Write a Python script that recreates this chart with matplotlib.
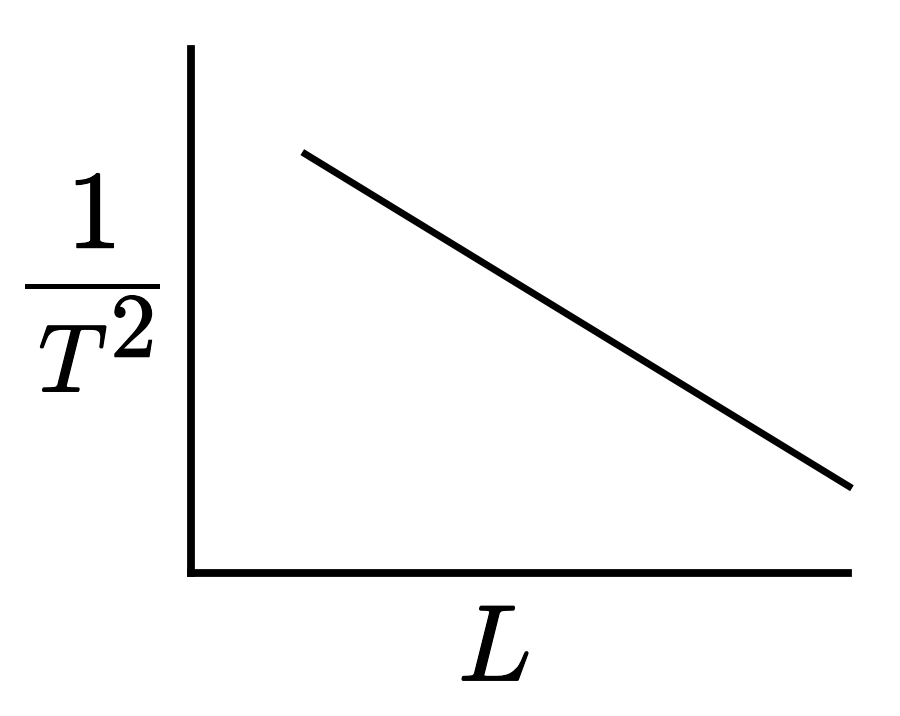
import matplotlib
matplotlib.use("Agg")
import matplotlib.pyplot as plt
from matplotlib.lines import Line2D
import matplotlib.patheffects as pe

plt.rcParams['mathtext.fontset'] = 'cm'

# data (axes-normalised units)
line_x = [0.170, 1.006]
line_y = [0.803, 0.161]
x_label = "$L$"
y_num = "$1$"
y_den = "$T$"
y_sup = "$\\mathrm{2}$"

W, H = 900, 716
fig = plt.figure(figsize=(W/100, H/100), dpi=100)
ax = fig.add_axes([190.5/W, 1-572.5/H, (848-190.5)/W, (572.5-49)/H])
ax.plot(line_x, line_y, color='black', lw=5.0, solid_capstyle='butt', clip_on=False)
ax.set_xlim(0, 1)
ax.set_ylim(0, 1)
ax.set_xticks([])
ax.set_yticks([])
for s in ['top', 'right']:
    ax.spines[s].set_visible(False)
for s in ['left', 'bottom']:
    ax.spines[s].set_linewidth(5.6)
    ax.spines[s].set_color('black')

bold = [pe.withStroke(linewidth=0.9, foreground='black')]

def ftext(x, y, s, size, ha='center'):
    fig.text(x/W, 1-y/H, s, fontsize=size, ha=ha, va='baseline', path_effects=bold)

ftext(494, 681, x_label, 78)
ftext(91, 248, y_num, 80)
fig.add_artist(Line2D([27/W, 157/W], [1-286/H, 1-286/H], color='black', lw=3.6,
                      transform=fig.transFigure))
ftext(73, 392, y_den, 69)
ftext(132, 357, y_sup, 66)

fig.savefig("out.png", dpi=100, facecolor='white')
